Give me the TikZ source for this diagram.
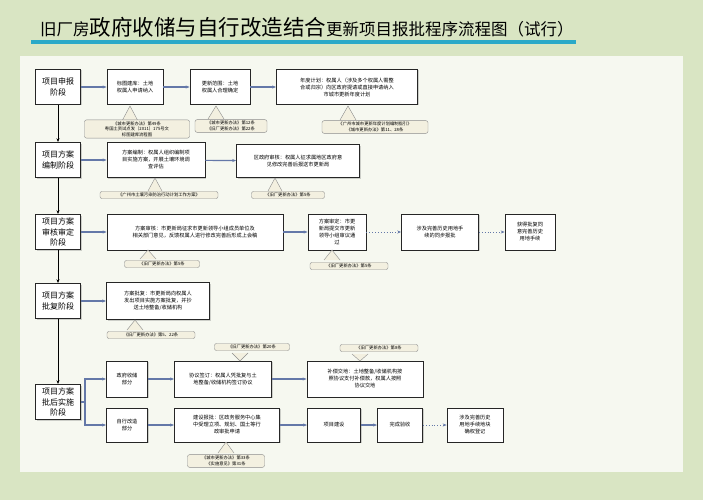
\documentclass[tikz,border=0pt]{standalone}
\usepackage{fontspec}
\setmainfont{Noto Sans CJK SC}
\usetikzlibrary{shadows,arrows.meta}
\definecolor{bg}{HTML}{D9E5C3}
\definecolor{inner}{HTML}{F6F8F0}
\definecolor{arr}{HTML}{6478A8}
\definecolor{cfill}{HTML}{F3F0E0}
\definecolor{bar}{HTML}{2AA9C8}
\tikzset{
 x=1pt,y=-1pt,
 box/.style={draw=black!85,fill=white,line width=0.7pt,align=center,font=\fontsize{5.2}{7}\selectfont,inner sep=2pt,drop shadow={shadow xshift=1pt,shadow yshift=-1pt,opacity=0.35}},
 stage/.style={box,font=\fontsize{8}{10.5}\selectfont},
 note/.style={draw=black!45,fill=cfill,rounded corners=2pt,align=center,font=\fontsize{4.3}{5.6}\selectfont,inner sep=1.5pt},
 flow/.style={draw=arr,line width=1.2pt,-{Stealth[length=4pt]}},
 dflow/.style={draw=arr,line width=0.9pt,dotted,-{Stealth[length=4pt]}},
 vflow/.style={draw=black,line width=1pt,-{Stealth[length=4pt]}},
 ptr/.style={draw=black!45,fill=cfill,line width=0.4pt}
}
\begin{document}
\begin{tikzpicture}
\useasboundingbox (0,0) rectangle (703,500);
\fill[bg] (0,0) rectangle (703,500);
\fill[inner] (20,56) rectangle (683,472);
\node[anchor=west,font=\fontsize{21.5}{24}\selectfont,inner sep=0pt] (title) at (40,27) {{\fontsize{16.5}{20}\selectfont 旧厂房}政府收储与自行改造结合{\fontsize{16.5}{20}\selectfont 更新项目报批程序流程图（试行）}};
\fill[bar] (31,40) rectangle (576,44);
% stages
\node[stage,minimum width=45,minimum height=35] (s1) at (58,87) {项目申报\\阶段};
\node[stage,minimum width=45,minimum height=35] (s2) at (58,160) {项目方案\\编制阶段};
\node[stage,minimum width=45,minimum height=35] (s3) at (58,232) {项目方案\\审核审定\\阶段};
\node[stage,minimum width=45,minimum height=35] (s4) at (58,301) {项目方案\\批复阶段};
\node[stage,minimum width=45,minimum height=35] (s5) at (58,402) {项目方案\\批后实施\\阶段};
\draw[vflow] (s1) -- (s2); \draw[vflow] (s2) -- (s3); \draw[vflow] (s3) -- (s4); \draw[vflow] (s4) -- (s5);
% row 1
\node[box,minimum width=56,minimum height=35] (a1) at (135,87) {标图建库：土地\\权属人申请纳入};
\node[box,minimum width=60,minimum height=35] (a2) at (220,87) {更新范围：土地\\权属人合理确定};
\node[box,minimum width=141,minimum height=35] (a3) at (347,87) {年度计划：权属人（涉及多个权属人需整\\合或归宗）向区政府提请或直接申请纳入\\市城市更新年度计划};
\draw[flow] (s1) -- (a1); \draw[flow] (a1) -- (a2); \draw[flow] (a2) -- (a3);
\draw[ptr] (122,121) -- (130,106) -- (138,121);
\node[note,minimum width=105] (n1) at (137,129) {《城市更新办法》第49条\\粤国土资试点发〔2011〕175号文\\标图建库流程图};
\draw[ptr] (208,119) -- (216,106) -- (224,119);
\node[note,minimum width=72] (n2) at (231,126) {《城市更新办法》第12条\\《旧厂更新办法》第22条};
\draw[ptr] (340,120) -- (348,106) -- (356,120);
\node[note,minimum width=106] (n3) at (375,127) {《广州市城市更新年度计划编制指引》\\《城市更新办法》第11、28条};
% row 2
\node[box,minimum width=98,minimum height=35] (b1) at (156,160) {方案编制：权属人组织编制项\\目实施方案，开展土壤环境调\\查评估};
\node[box,minimum width=123,minimum height=33] (b2) at (298,161) {区政府审核：权属人征求属地区政府意\\见修改完善后报送市更新局};
\draw[flow] (s2) -- (b1); \draw[flow] (b1) -- (b2);
\draw[ptr] (148,191) -- (155,178) -- (162,191);
\node[note,minimum width=118] (n4) at (159,195) {《广州市土壤污染防治行动计划工作方案》};
\draw[ptr] (268,191) -- (275,178) -- (282,191);
\node[note,minimum width=73] (n5) at (288,195) {《旧厂更新办法》第5条};
% row 3
\node[box,minimum width=176,minimum height=36] (d1) at (195,232) {方案审核：市更新局征求市更新领导小组成员单位及\\相关部门意见，反馈权属人进行修改完善后形成上会稿};
\node[box,minimum width=58,minimum height=36] (d2) at (337,232) {方案审定：市更\\新局提交市更新\\领导小组审议通\\过};
\node[box,minimum width=77,minimum height=36] (d3) at (440,232) {涉及完善历史用地手\\续的同步报批};
\node[box,minimum width=50,minimum height=36] (d4) at (530,232) {获得批复同\\意完善历史\\用地手续};
\draw[flow] (s3) -- (d1); \draw[flow] (d1) -- (d2); \draw[dflow] (d2) -- (d3); \draw[dflow] (d3) -- (d4);
\draw[ptr] (140,259) -- (148,250) -- (156,259);
\node[note,minimum width=75] (n6) at (162,264) {《旧厂更新办法》第5条};
\draw[ptr] (324,260) -- (332,250) -- (340,260);
\node[note,minimum width=78] (n7) at (349,266) {《旧厂更新办法》第5条};
% row 4
\node[box,minimum width=103,minimum height=37] (e1) at (158,301) {方案批复：市更新局向权属人\\发出项目实施方案批复，并抄\\送土地整备/收储机构};
\draw[flow] (s4) -- (e1);
\draw[ptr] (127,330) -- (135,320) -- (143,330);
\node[note,minimum width=88] (n8) at (151,335) {《旧厂更新办法》第5、22条};
% row 5
\node[box,minimum width=41,minimum height=36] (f1) at (127,379) {政府收储\\部分};
\node[box,minimum width=41,minimum height=34] (f2) at (127,425) {自行改造\\部分};
\coordinate (sp) at (85,402);
\draw[draw=arr,line width=1.2pt] (s5.east) -- (sp);
\draw[flow] (sp) |- (f1); \draw[flow] (sp) |- (f2);
\node[box,minimum width=97,minimum height=36] (g1) at (223,379) {协议签订：权属人凭批复与土\\地整备/收储机构签订协议};
\node[box,minimum width=116,minimum height=36] (g2) at (365,379) {补偿交地：土地整备/收储机构按\\照协议支付补偿款，权属人按照\\协议交地};
\draw[flow] (f1) -- (g1); \draw[flow] (g1) -- (g2);
\draw[ptr] (232,353) -- (240,361) -- (248,353);
\node[note,minimum width=75] (n9) at (252,347) {《旧厂更新办法》第20条};
\draw[ptr] (352,354) -- (360,361) -- (368,354);
\node[note,minimum width=78] (n10) at (379,348) {《旧厂更新办法》第8条};
\node[box,minimum width=105,minimum height=34] (h1) at (227,425) {建设报批：区政务服务中心集\\中受理立项、规划、国土等行\\政审批申请};
\node[box,minimum width=53,minimum height=34] (h2) at (334,425) {项目建设};
\node[box,minimum width=45,minimum height=34] (h3) at (400,425) {完成验收};
\node[box,minimum width=56,minimum height=34] (h4) at (475,425) {涉及完善历史\\用地手续地块\\确权登记};
\draw[flow] (f2) -- (h1); \draw[flow] (h1) -- (h2); \draw[flow] (h2) -- (h3); \draw[dflow] (h3) -- (h4);
\draw[ptr] (218,453) -- (226,442) -- (234,453);
\node[note,minimum width=77] (n11) at (226,461) {《城市更新办法》第33条\\《实施意见》第31条};
\end{tikzpicture}
\end{document}
